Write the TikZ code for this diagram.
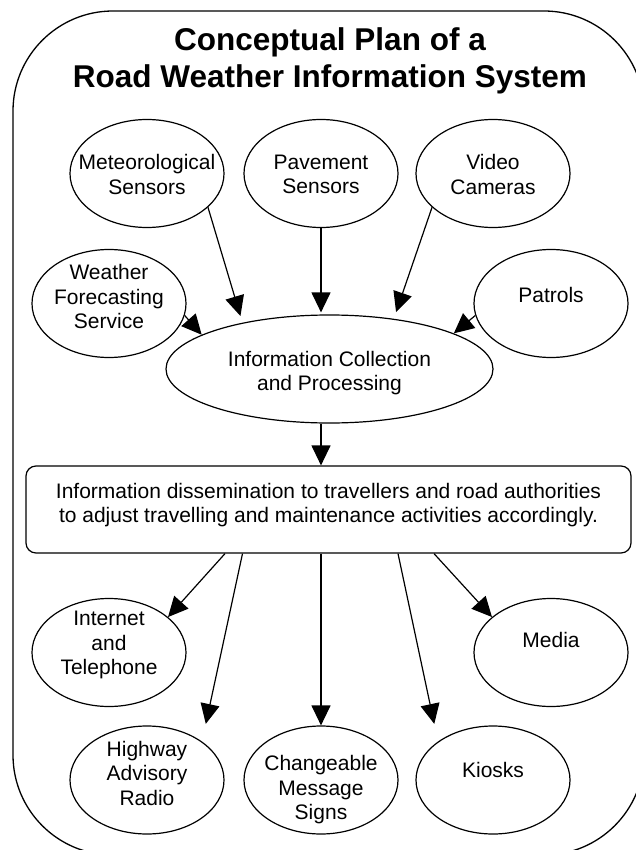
\documentclass[tikz,border=0pt]{standalone}
\usepackage{fontspec}
\setmainfont{Liberation Sans}
\usetikzlibrary{shapes.geometric,arrows.meta}
\newcommand{\bodyfont}{\fontsize{21}{24.5}\selectfont}
\newcommand{\titlefont}{\fontsize{31.5}{37}\selectfont\bfseries}

\begin{document}
\begin{tikzpicture}[x=1pt,y=-1pt,
		bub/.style={draw,ellipse,line width=1.2pt,minimum width=154pt,minimum height=108pt,inner sep=0pt},
		txt/.style={align=center,inner sep=0pt,font=\bodyfont},
		arr/.style={-{Triangle[length=20pt,width=19pt]},line width=1.2pt}]
	\useasboundingbox (0,0) rectangle (636,850);
	\draw[line width=1.3pt,rounded corners=100pt] (13,11) rectangle (644,855);
	\node[align=center,inner sep=0pt,font=\titlefont] (title) at (330,61.3) {Conceptual Plan of a\\Road Weather Information System};
	\begin{scope}
		\node[bub,label={[txt,yshift=-1pt]center:Meteorological\\Sensors}] (met) at (147,173.5) {};
		\node[bub,label={[txt,yshift=-1pt]center:Pavement\\Sensors}] (pav) at (321,173.5) {};
		\node[bub,label={[txt,yshift=-1pt]center:Video\\Cameras}] (vid) at (493,173.5) {};
		\node[bub,label={[txt,yshift=6.6pt]center:Weather\\Forecasting\\Service}] (wea) at (109,303.5) {};
		\node[bub,label={[txt,yshift=8.6pt]center:Patrols}] (pat) at (551,303.5) {};
		\node[bub,minimum width=327pt,label={[txt,yshift=-4pt]center:Information Collection\\and Processing}] (col) at (329.5,369) {};
		\node[draw,rounded corners=10pt,line width=1.2pt,minimum width=605pt,minimum height=87pt,
			label={[txt,yshift=4.5pt]center:Information dissemination to travellers and road authorities\\to adjust travelling and maintenance activities accordingly.}] (box) at (328.5,509.5) {};
		\node[bub,label={[txt,yshift=7.5pt]center:Internet\\and\\Telephone}] (inet) at (109,652.5) {};
		\node[bub,label={[txt,yshift=12.6pt]center:Media}] (media) at (551,652.5) {};
		\node[bub,label={[txt,yshift=6.6pt]center:Highway\\Advisory\\Radio}] (hwy) at (147,780) {};
		\node[bub,label={[txt,yshift=-10pt]center:Changeable\\Message\\Signs}] (cms) at (321,780) {};
		\node[bub,label={[txt,yshift=10pt]center:Kiosks}] (kiosk) at (493,780) {};
	\end{scope}
	\begin{scope}[arr]
		\draw[shorten >=7pt] (met.-29) -- (col.152);
		\draw[shorten >=2pt] (pav.south) -- (pav.south |- col.north);
		\draw[shorten >=7pt] (vid.209) -- (col.38);
		\draw (wea.-9) -- (col.165);
		\draw (pat.189) -- (col.16);
		\draw (col.south -| pav.south) -- (box.north -| pav.south);
		\draw ([xshift=-103.5pt]box.south) -- (inet.31);
		\draw[shorten >=18pt] ([xshift=-86pt]box.south) -- (hwy.35);
		\draw (box.south -| cms.north) -- (cms.north);
		\draw[shorten >=18pt] ([xshift=69.5pt]box.south) -- (kiosk.145);
		\draw ([xshift=105.5pt]box.south) -- (media.149);
	\end{scope}
\end{tikzpicture}
\end{document}
